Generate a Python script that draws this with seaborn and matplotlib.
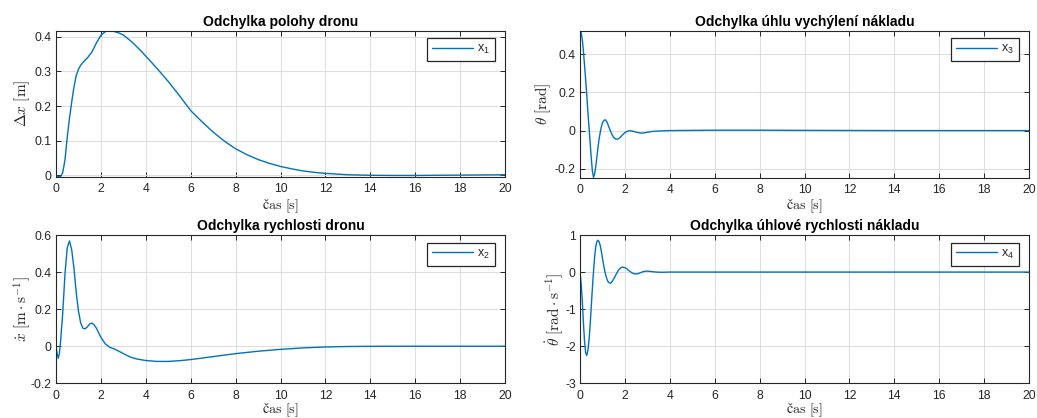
import numpy as np
import matplotlib
matplotlib.use("Agg")
import matplotlib.pyplot as plt
import seaborn as sns
from matplotlib.ticker import FuncFormatter, FixedLocator

# ---------------- data ----------------
t_x1 = [0, 0.1, 0.2, 0.3, 0.4, 0.5, 0.6, 0.7, 0.8, 0.9, 1.0, 1.1, 1.2, 1.4, 1.6,
        1.8, 2.0, 2.2, 2.4, 2.6, 2.8, 3.0, 3.4, 3.8, 4.2, 4.6, 5.0, 5.5, 6.0,
        6.5, 7.0, 7.5, 8.0, 8.5, 9.0, 9.5, 10, 10.5, 11, 11.5, 12, 13, 14, 15,
        16, 17, 18, 19, 20]
x1 = [0, -0.003, -0.004, 0.008, 0.045, 0.11, 0.165, 0.212, 0.255, 0.288, 0.306,
      0.318, 0.326, 0.339, 0.356, 0.382, 0.404, 0.415, 0.4172, 0.415, 0.411,
      0.405, 0.384, 0.358, 0.330, 0.301, 0.271, 0.230, 0.187, 0.155, 0.125,
      0.099, 0.077, 0.060, 0.046, 0.035, 0.026, 0.019, 0.013, 0.009, 0.006,
      0.002, 0.0005, 0.0, 0.0, 0.0005, 0.001, 0.0015, 0.002]

t_x2 = [0, 0.05, 0.1, 0.15, 0.2, 0.3, 0.4, 0.5, 0.6, 0.7, 0.8, 0.9, 1.0, 1.1,
        1.2, 1.3, 1.4, 1.5, 1.6, 1.7, 1.8, 1.9, 2.0, 2.2, 2.4, 2.6, 2.8, 3.0,
        3.3, 3.6, 4.0, 4.5, 5.0, 5.5, 6.0, 6.5, 7.0, 8.0, 9.0, 10, 11, 12, 13,
        14, 16, 18, 20]
x2 = [0, -0.04, -0.065, -0.04, 0.02, 0.18, 0.39, 0.53, 0.568, 0.52, 0.42, 0.29,
      0.19, 0.125, 0.097, 0.094, 0.105, 0.12, 0.125, 0.115, 0.097, 0.072,
      0.048, 0.012, -0.006, -0.015, -0.027, -0.040, -0.058, -0.069, -0.077,
      -0.082, -0.082, -0.078, -0.072, -0.064, -0.056, -0.040, -0.027, -0.017,
      -0.009, -0.004, -0.0015, -0.0005, 0, 0, 0]

t_x3 = [0, 0.05, 0.1, 0.15, 0.2, 0.25, 0.3, 0.35, 0.4, 0.45, 0.5, 0.55, 0.6,
        0.65, 0.7, 0.75, 0.8, 0.85, 0.9, 0.95, 1.0, 1.05, 1.1, 1.15, 1.2, 1.3,
        1.4, 1.5, 1.6, 1.7, 1.8, 1.9, 2.0, 2.1, 2.2, 2.3, 2.4, 2.5, 2.6, 2.7,
        2.8, 2.9, 3.0, 3.2, 3.4, 3.6, 3.8, 4.0, 5, 6, 8, 10, 12, 14, 16, 18, 20]
x3 = [0.5236, 0.515, 0.48, 0.42, 0.345, 0.27, 0.19, 0.10, 0.02, -0.06, -0.14,
      -0.21, -0.245, -0.23, -0.19, -0.14, -0.09, -0.045, -0.01, 0.02, 0.04,
      0.051, 0.056, 0.055, 0.045, 0.015, -0.015, -0.036, -0.045, -0.044,
      -0.035, -0.022, -0.011, -0.004, -0.001, -0.002, -0.005, -0.008, -0.011,
      -0.013, -0.013, -0.011, -0.009, -0.005, -0.003, -0.002, -0.001, 0.0,
      0.001, 0.002, 0.002, 0.001, 0.0005, 0, 0, 0, 0]

t_x4 = [0, 0.05, 0.1, 0.15, 0.2, 0.25, 0.3, 0.35, 0.4, 0.45, 0.5, 0.55, 0.6,
        0.65, 0.7, 0.75, 0.8, 0.85, 0.9, 0.95, 1.0, 1.05, 1.1, 1.15, 1.2, 1.25,
        1.3, 1.35, 1.4, 1.5, 1.6, 1.7, 1.8, 1.9, 2.0, 2.1, 2.2, 2.3, 2.4, 2.5,
        2.6, 2.7, 2.8, 2.9, 3.0, 3.1, 3.2, 3.4, 3.6, 3.8, 4.0, 6, 8, 10, 12,
        14, 16, 18, 20]
x4 = [0, -0.3, -0.75, -1.35, -1.85, -2.17, -2.25, -2.12, -1.85, -1.45, -0.95,
      -0.45, 0.0, 0.4, 0.68, 0.82, 0.86, 0.82, 0.72, 0.56, 0.38, 0.2, 0.04,
      -0.09, -0.19, -0.26, -0.29, -0.30, -0.28, -0.19, -0.07, 0.04, 0.11,
      0.135, 0.12, 0.08, 0.03, -0.015, -0.045, -0.05, -0.04, -0.015, 0.008,
      0.022, 0.025, 0.02, 0.012, 0.0, -0.005, -0.003, 0.0, 0, 0, 0, 0, 0, 0,
      0, 0]

titles = ["Odchylka polohy dronu", "Odchylka úhlu vychýlení nákladu",
          "Odchylka rychlosti dronu", "Odchylka úhlové rychlosti nákladu"]
ylabels = [r"$\Delta x\ [\mathrm{m}]$", r"$\theta\ [\mathrm{rad}]$",
           r"$\dot{x}\ [\mathrm{m}\cdot\mathrm{s}^{-1}]$",
           r"$\dot{\theta}\ [\mathrm{rad}\cdot\mathrm{s}^{-1}]$"]
xlabel = r"$\mathrm{čas}\ [\mathrm{s}]$"
legend_labels = [r"$\mathregular{x_1}$", r"$\mathregular{x_3}$",
                 r"$\mathregular{x_2}$", r"$\mathregular{x_4}$"]
xticks = [0, 2, 4, 6, 8, 10, 12, 14, 16, 18, 20]
yticks_list = [[0, 0.1, 0.2, 0.3, 0.4], [-0.2, 0, 0.2, 0.4],
               [-0.2, 0, 0.2, 0.4, 0.6], [-3, -2, -1, 0, 1]]
ylims = [(-0.003, 0.4174), (-0.246, 0.5236), (-0.2, 0.6), (-3, 1)]

series = [(t_x1, x1), (t_x3, x3), (t_x2, x2), (t_x4, x4)]

# ---------------- style ----------------
sns.set_style("ticks")
plt.rcParams.update({
    "font.family": ["Liberation Sans", "DejaVu Sans"],
    "mathtext.fontset": "cm",
    "axes.unicode_minus": False,
})

W, H = 1037, 418
fig = plt.figure(figsize=(W / 100, H / 100), dpi=100)

# axes boxes in pixels: left, top, right, bottom
boxes_px = [(56, 30.7, 505, 176.5), (580, 30.7, 1029, 177.5),
            (56, 235.0, 505, 383.3), (580, 235.0, 1029, 383.3)]
ylabel_x_px = [21.7, 543.3, 21.7, 555.0]
xlabel_center_px = [206.5, 206.5, 410.0, 410.0]

dark = "#262626"
fmt = FuncFormatter(lambda v, p: "%g" % round(v, 6))

for i in range(4):
    l, t, r, b = boxes_px[i]
    ax = fig.add_axes([l / W, 1 - b / H, (r - l) / W, (b - t) / H])
    tt, vv = series[i]
    sns.lineplot(x=tt, y=vv, ax=ax, color="#0072BD", linewidth=1.0,
                 estimator=None, sort=False, label=legend_labels[i])
    ax.set_xlim(0, 20)
    ax.set_ylim(*ylims[i])
    ax.xaxis.set_major_locator(FixedLocator(xticks))
    ax.yaxis.set_major_locator(FixedLocator(yticks_list[i]))
    ax.xaxis.set_major_formatter(fmt)
    ax.yaxis.set_major_formatter(fmt)
    ax.grid(True, color="#dedede", linewidth=0.8)
    ax.set_axisbelow(True)
    for s in ax.spines.values():
        s.set_visible(True)
        s.set_color(dark)
        s.set_linewidth(0.8)
    ax.tick_params(direction="in", length=3.6, width=0.7, color=dark,
                   top=True, right=True, labelsize=8.8, labelcolor=dark)
    ax.tick_params(axis="x", pad=5.0)
    ax.tick_params(axis="y", pad=3)
    ax.set_title(titles[i], fontsize=10, fontweight="bold", pad=3.5,
                 color="black")
    ax.set_xlabel(xlabel, fontsize=10.2, color=dark, va="center")
    hgt = b - t
    ax.xaxis.set_label_coords(0.5, -((xlabel_center_px[i] - b) / hgt))
    ax.set_ylabel(ylabels[i], fontsize=11, color=dark, va="center")
    ax.yaxis.set_label_coords((ylabel_x_px[i] - l) / (r - l), 0.5)
    leg = ax.legend(loc="upper right",
                    bbox_to_anchor=(1 - 10 / (r - l), 1 - 7.6 / hgt),
                    borderaxespad=0, fontsize=9, fancybox=False,
                    framealpha=1, edgecolor=dark, handlelength=3.3,
                    handletextpad=0.3, borderpad=0.4)
    leg.get_frame().set_linewidth(0.9)

fig.savefig("out.png", dpi=100)
